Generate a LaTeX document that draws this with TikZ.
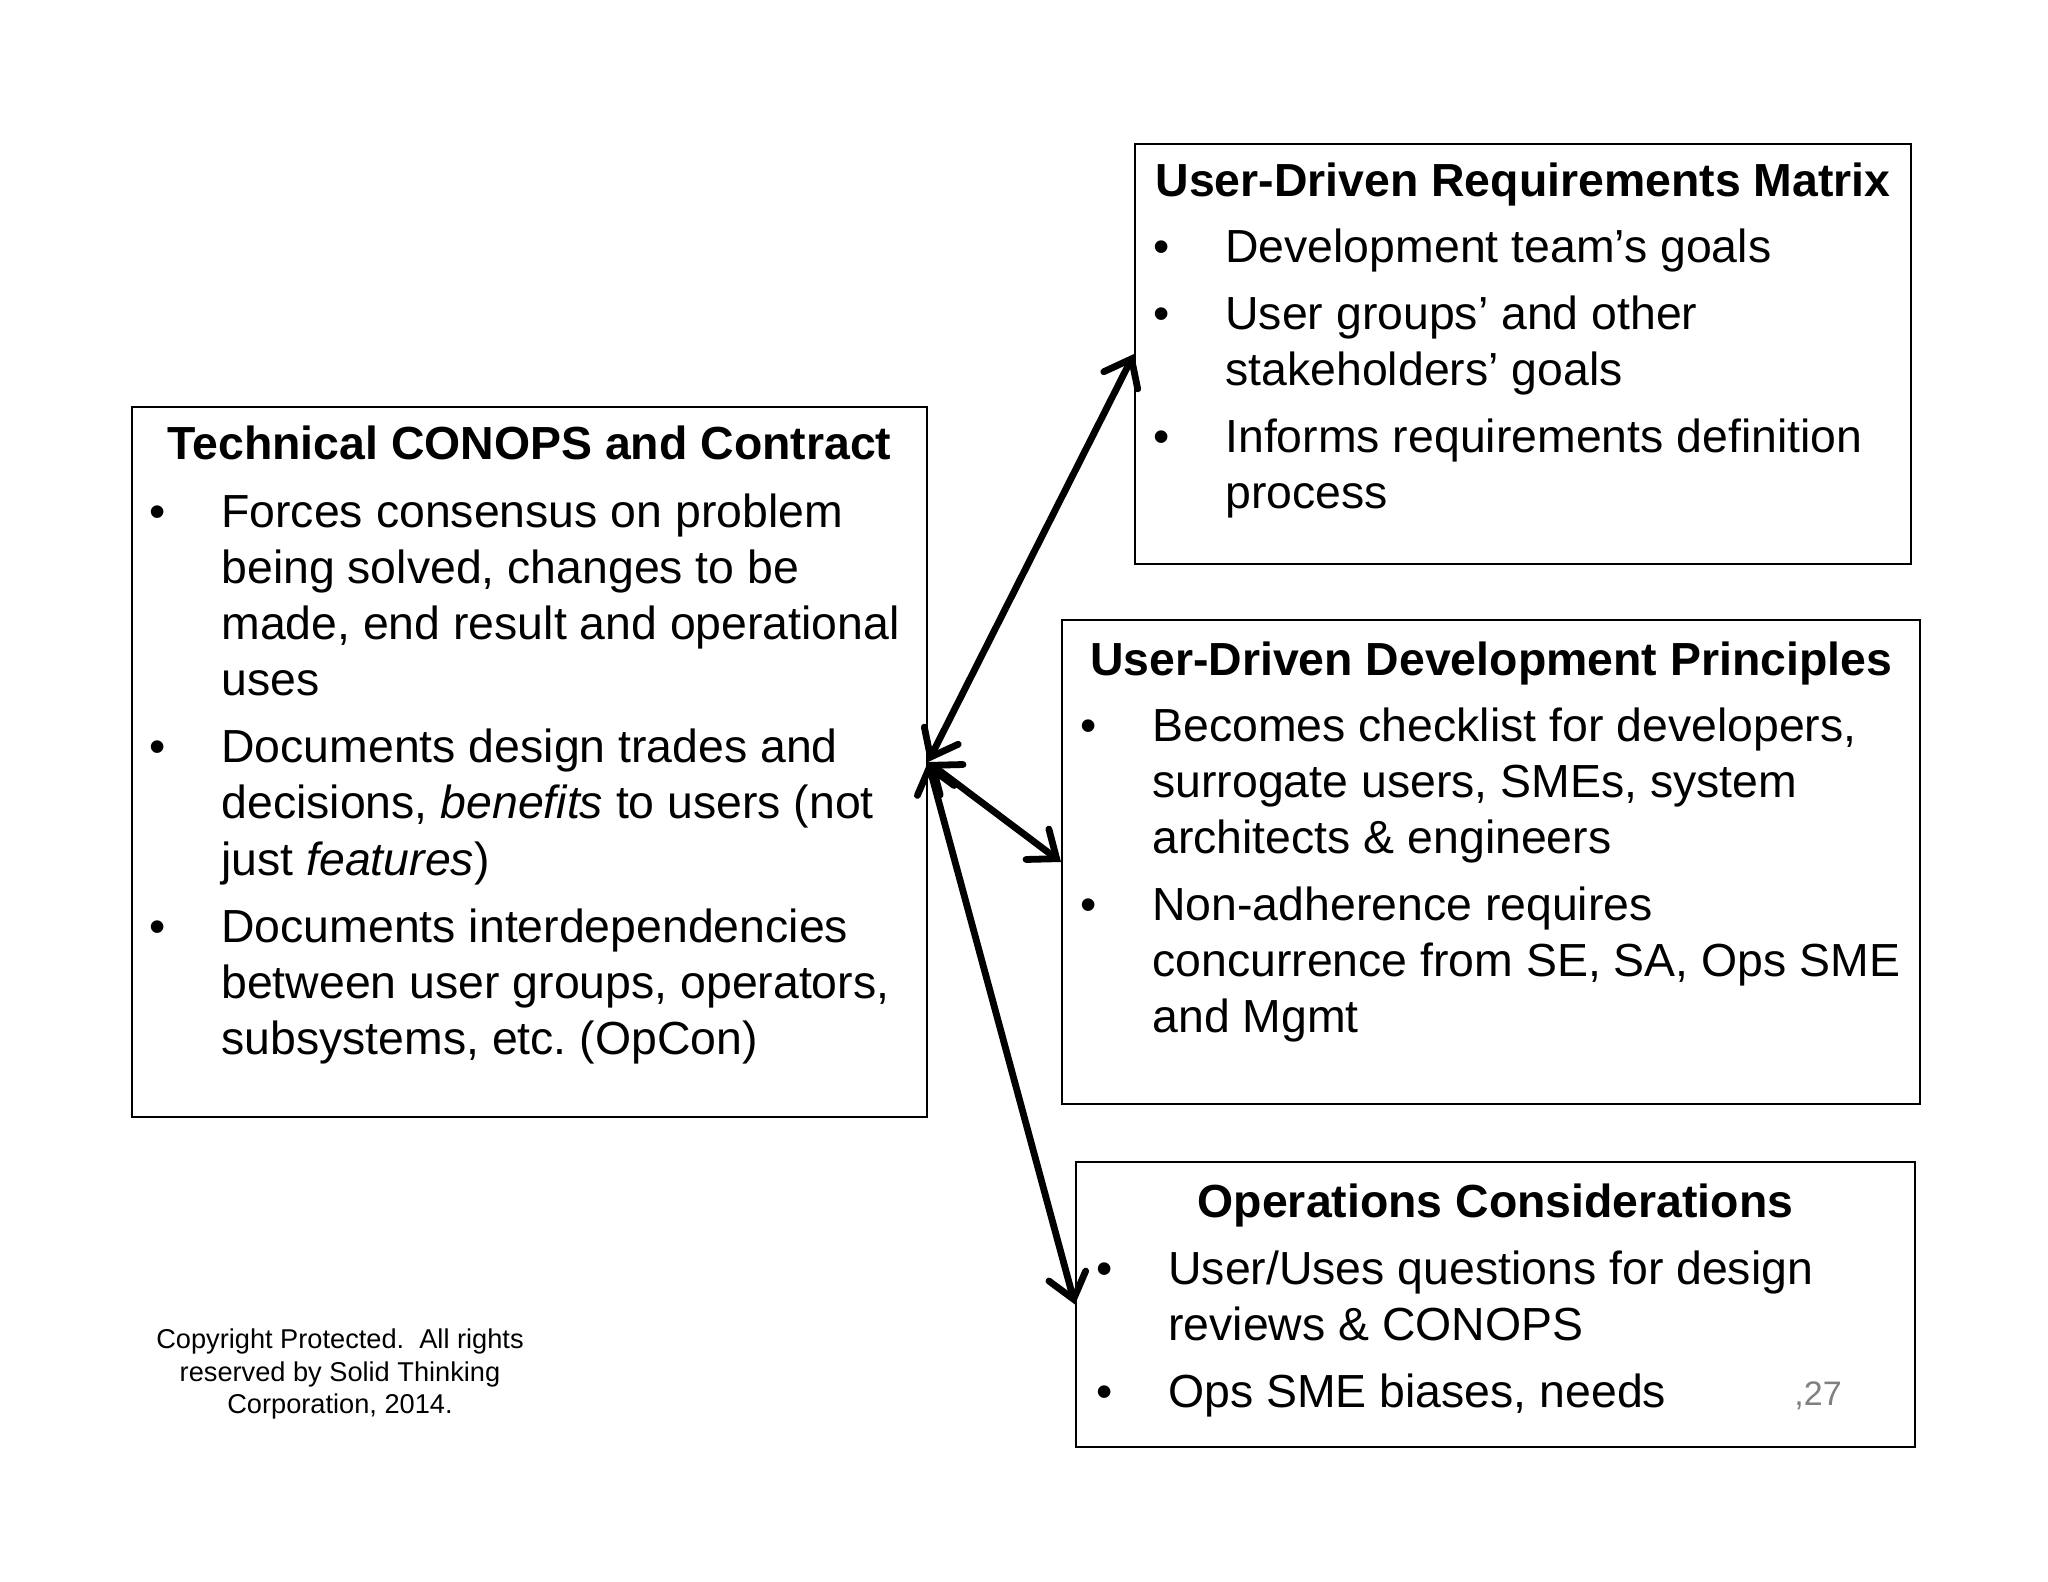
\documentclass[tikz,border=0pt]{standalone}
\usepackage{fontspec}
\setmainfont{Liberation Sans}
\usetikzlibrary{arrows.meta}
\frenchspacing
\newlength{\bind}
\setlength{\bind}{36pt}
\newcommand{\bitem}[1]{\par\hangindent=\bind\hangafter=1\noindent\makebox[\bind][l]{•}#1\par}
\newcommand{\bodyfont}{\fontsize{23.2pt}{28pt}\selectfont}
\newcommand{\bodytext}[1]{\parbox[t]{430pt}{\bodyfont\setlength{\parskip}{5.5pt}\raggedright #1}}
\tikzset{
  box/.style={draw=black, line width=1pt, inner sep=0pt, fill=none},
  ttl/.style={anchor=base, inner sep=0pt, font=\bodyfont\bfseries},
  body/.style={anchor=base west, inner sep=0pt},
  dbl/.style={line width=3.4pt, line cap=round,
    {Straight Barb[length=12pt,width=19pt,line cap=round]}-{Straight Barb[length=12pt,width=19pt,line cap=round]}}
}
\begin{document}
\begin{tikzpicture}[x=0.5pt,y=-0.5pt]
\useasboundingbox[fill=white] (0,0) rectangle (2048,1582);

% boxes
\node[box, minimum width=397.5pt, minimum height=355pt] (L) at (529.5,762) {};
\node[box, minimum width=388pt, minimum height=210pt] (T) at (1523,354) {};
\node[box, minimum width=429pt, minimum height=242pt] (M) at (1491,862) {};
\node[box, minimum width=419.5pt, minimum height=142.5pt] (B) at (1495.5,1304.5) {};

% left box text
\node[ttl] (Lt) at (529.5,460) {Technical CONOPS and Contract};
\node[body] (Lb) at (149,528) {\bodytext{%
\bitem{Forces consensus on problem\newline being solved, changes to be\newline made, end result and operational\newline uses}
\bitem{Documents design trades and\newline decisions, \textit{benefits} to users (not\newline just \textit{features})}
\bitem{Documents interdependencies\newline between user groups, operators,\newline subsystems, etc. (OpCon)}}};

% top box text
\node[ttl] (Tt) at (1523,197) {User-Driven Requirements Matrix};
\node[body] (Tb) at (1153,263) {\bodytext{%
\bitem{Development team’s goals}
\bitem{User groups’ and other\newline stakeholders’ goals}
\bitem{Informs requirements definition\newline process}}};

% middle box text
\node[ttl] (Mt) at (1491,675) {User-Driven Development Principles};
\node[body] (Mb) at (1080,741) {\bodytext{%
\bitem{Becomes checklist for developers,\newline surrogate users, SMEs, system\newline architects \& engineers}
\bitem{Non-adherence requires\newline concurrence from SE, SA, Ops SME\newline and Mgmt}}};

% bottom box text
\node[ttl] (Bt) at (1495.5,1217) {Operations Considerations};
\node[body] (Bb) at (1096,1284) {\bodytext{%
\bitem{User/Uses questions for design\newline reviews \& CONOPS}
\bitem{Ops SME biases, needs}}};

\node[text={rgb,255:red,128;green,128;blue,128}, inner sep=0pt, font=\fontsize{17pt}{20pt}\selectfont] (pg) at (1818,1396) {,27};

\node[align=center, inner sep=0pt, font=\fontsize{13.6pt}{16.4pt}\selectfont] (cr) at (340,1374)
  {Copyright Protected.\ \ All rights\\reserved by Solid Thinking\\Corporation, 2014.};

% arrows
\draw[dbl] (L.east) -- (T.west);
\draw[dbl] (L.east) -- (M.west);
\draw[dbl] (L.east) -- (B.west);
\end{tikzpicture}
\end{document}
